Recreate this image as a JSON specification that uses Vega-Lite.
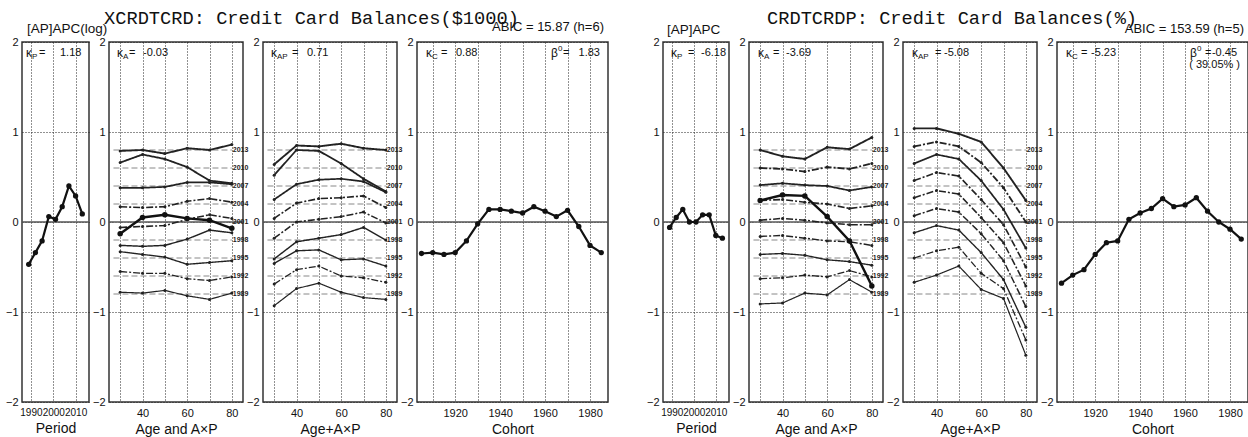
{
  "$schema": "https://vega.github.io/schema/vega-lite/v6.json",
  "background": "white",
  "padding": {"left": 4, "right": 2, "top": 8, "bottom": 0},
  "spacing": 35,
  "datasets": {
    "levels": [
      {"period": 1989, "level": -0.8}, {"period": 1992, "level": -0.6}, {"period": 1995, "level": -0.4},
      {"period": 1998, "level": -0.2}, {"period": 2001, "level": 0.0}, {"period": 2004, "level": 0.2},
      {"period": 2007, "level": 0.4}, {"period": 2010, "level": 0.6}, {"period": 2013, "level": 0.8}
    ],
    "period_left": [
      {"period": 1989, "value": -0.47}, {"period": 1992, "value": -0.34}, {"period": 1995, "value": -0.21},
      {"period": 1998, "value": 0.06}, {"period": 2001, "value": 0.03}, {"period": 2004, "value": 0.17},
      {"period": 2007, "value": 0.40}, {"period": 2010, "value": 0.29}, {"period": 2013, "value": 0.09}
    ],
    "age_left": [
      {"age": 30, "value": -0.13}, {"age": 40, "value": 0.05}, {"age": 50, "value": 0.08},
      {"age": 60, "value": 0.04}, {"age": 70, "value": 0.02}, {"age": 80, "value": -0.07}
    ],
    "axp_left": [
      {"period": 2013, "age": 30, "value": 0.79}, {"period": 2013, "age": 40, "value": 0.80}, {"period": 2013, "age": 50, "value": 0.76}, {"period": 2013, "age": 60, "value": 0.82}, {"period": 2013, "age": 70, "value": 0.80}, {"period": 2013, "age": 80, "value": 0.86},
      {"period": 2010, "age": 30, "value": 0.66}, {"period": 2010, "age": 40, "value": 0.75}, {"period": 2010, "age": 50, "value": 0.70}, {"period": 2010, "age": 60, "value": 0.61}, {"period": 2010, "age": 70, "value": 0.46}, {"period": 2010, "age": 80, "value": 0.43},
      {"period": 2007, "age": 30, "value": 0.38}, {"period": 2007, "age": 40, "value": 0.38}, {"period": 2007, "age": 50, "value": 0.39}, {"period": 2007, "age": 60, "value": 0.44}, {"period": 2007, "age": 70, "value": 0.44}, {"period": 2007, "age": 80, "value": 0.42},
      {"period": 2004, "age": 30, "value": 0.17}, {"period": 2004, "age": 40, "value": 0.16}, {"period": 2004, "age": 50, "value": 0.17}, {"period": 2004, "age": 60, "value": 0.23}, {"period": 2004, "age": 70, "value": 0.26}, {"period": 2004, "age": 80, "value": 0.22},
      {"period": 2001, "age": 30, "value": -0.06}, {"period": 2001, "age": 40, "value": -0.05}, {"period": 2001, "age": 50, "value": -0.04}, {"period": 2001, "age": 60, "value": 0.03}, {"period": 2001, "age": 70, "value": 0.08}, {"period": 2001, "age": 80, "value": 0.04},
      {"period": 1998, "age": 30, "value": -0.26}, {"period": 1998, "age": 40, "value": -0.27}, {"period": 1998, "age": 50, "value": -0.26}, {"period": 1998, "age": 60, "value": -0.19}, {"period": 1998, "age": 70, "value": -0.09}, {"period": 1998, "age": 80, "value": -0.12},
      {"period": 1995, "age": 30, "value": -0.33}, {"period": 1995, "age": 40, "value": -0.36}, {"period": 1995, "age": 50, "value": -0.39}, {"period": 1995, "age": 60, "value": -0.47}, {"period": 1995, "age": 70, "value": -0.45}, {"period": 1995, "age": 80, "value": -0.43},
      {"period": 1992, "age": 30, "value": -0.55}, {"period": 1992, "age": 40, "value": -0.57}, {"period": 1992, "age": 50, "value": -0.57}, {"period": 1992, "age": 60, "value": -0.63}, {"period": 1992, "age": 70, "value": -0.65}, {"period": 1992, "age": 80, "value": -0.61},
      {"period": 1989, "age": 30, "value": -0.78}, {"period": 1989, "age": 40, "value": -0.79}, {"period": 1989, "age": 50, "value": -0.76}, {"period": 1989, "age": 60, "value": -0.82}, {"period": 1989, "age": 70, "value": -0.86}, {"period": 1989, "age": 80, "value": -0.79}
    ],
    "ageaxp_left": [
      {"period": 2013, "age": 30, "value": 0.64}, {"period": 2013, "age": 40, "value": 0.85}, {"period": 2013, "age": 50, "value": 0.84}, {"period": 2013, "age": 60, "value": 0.87}, {"period": 2013, "age": 70, "value": 0.82}, {"period": 2013, "age": 80, "value": 0.80},
      {"period": 2010, "age": 30, "value": 0.52}, {"period": 2010, "age": 40, "value": 0.80}, {"period": 2010, "age": 50, "value": 0.79}, {"period": 2010, "age": 60, "value": 0.65}, {"period": 2010, "age": 70, "value": 0.48}, {"period": 2010, "age": 80, "value": 0.34},
      {"period": 2007, "age": 30, "value": 0.25}, {"period": 2007, "age": 40, "value": 0.42}, {"period": 2007, "age": 50, "value": 0.47}, {"period": 2007, "age": 60, "value": 0.48}, {"period": 2007, "age": 70, "value": 0.45}, {"period": 2007, "age": 80, "value": 0.33},
      {"period": 2004, "age": 30, "value": 0.04}, {"period": 2004, "age": 40, "value": 0.21}, {"period": 2004, "age": 50, "value": 0.26}, {"period": 2004, "age": 60, "value": 0.27}, {"period": 2004, "age": 70, "value": 0.29}, {"period": 2004, "age": 80, "value": 0.16},
      {"period": 2001, "age": 30, "value": -0.18}, {"period": 2001, "age": 40, "value": 0.00}, {"period": 2001, "age": 50, "value": 0.03}, {"period": 2001, "age": 60, "value": 0.06}, {"period": 2001, "age": 70, "value": 0.11}, {"period": 2001, "age": 80, "value": -0.01},
      {"period": 1998, "age": 30, "value": -0.41}, {"period": 1998, "age": 40, "value": -0.22}, {"period": 1998, "age": 50, "value": -0.18}, {"period": 1998, "age": 60, "value": -0.14}, {"period": 1998, "age": 70, "value": -0.06}, {"period": 1998, "age": 80, "value": -0.20},
      {"period": 1995, "age": 30, "value": -0.46}, {"period": 1995, "age": 40, "value": -0.32}, {"period": 1995, "age": 50, "value": -0.31}, {"period": 1995, "age": 60, "value": -0.42}, {"period": 1995, "age": 70, "value": -0.41}, {"period": 1995, "age": 80, "value": -0.49},
      {"period": 1992, "age": 30, "value": -0.69}, {"period": 1992, "age": 40, "value": -0.53}, {"period": 1992, "age": 50, "value": -0.49}, {"period": 1992, "age": 60, "value": -0.60}, {"period": 1992, "age": 70, "value": -0.62}, {"period": 1992, "age": 80, "value": -0.67},
      {"period": 1989, "age": 30, "value": -0.93}, {"period": 1989, "age": 40, "value": -0.74}, {"period": 1989, "age": 50, "value": -0.68}, {"period": 1989, "age": 60, "value": -0.78}, {"period": 1989, "age": 70, "value": -0.84}, {"period": 1989, "age": 80, "value": -0.86}
    ],
    "cohort_left": [
      {"cohort": 1905, "value": -0.35}, {"cohort": 1910, "value": -0.34}, {"cohort": 1915, "value": -0.36}, {"cohort": 1920, "value": -0.34},
      {"cohort": 1925, "value": -0.21}, {"cohort": 1930, "value": -0.02}, {"cohort": 1935, "value": 0.14}, {"cohort": 1940, "value": 0.14},
      {"cohort": 1945, "value": 0.12}, {"cohort": 1950, "value": 0.10}, {"cohort": 1955, "value": 0.17}, {"cohort": 1960, "value": 0.12},
      {"cohort": 1965, "value": 0.06}, {"cohort": 1970, "value": 0.13}, {"cohort": 1975, "value": -0.05}, {"cohort": 1980, "value": -0.26},
      {"cohort": 1985, "value": -0.34}
    ],
    "period_right": [
      {"period": 1989, "value": -0.06}, {"period": 1992, "value": 0.05}, {"period": 1995, "value": 0.14},
      {"period": 1998, "value": 0.00}, {"period": 2001, "value": 0.00}, {"period": 2004, "value": 0.08},
      {"period": 2007, "value": 0.08}, {"period": 2010, "value": -0.15}, {"period": 2013, "value": -0.18}
    ],
    "age_right": [
      {"age": 30, "value": 0.24}, {"age": 40, "value": 0.30}, {"age": 50, "value": 0.29},
      {"age": 60, "value": 0.06}, {"age": 70, "value": -0.21}, {"age": 80, "value": -0.71}
    ],
    "axp_right": [
      {"period": 2013, "age": 30, "value": 0.80}, {"period": 2013, "age": 40, "value": 0.73}, {"period": 2013, "age": 50, "value": 0.70}, {"period": 2013, "age": 60, "value": 0.83}, {"period": 2013, "age": 70, "value": 0.81}, {"period": 2013, "age": 80, "value": 0.94},
      {"period": 2010, "age": 30, "value": 0.60}, {"period": 2010, "age": 40, "value": 0.59}, {"period": 2010, "age": 50, "value": 0.56}, {"period": 2010, "age": 60, "value": 0.61}, {"period": 2010, "age": 70, "value": 0.59}, {"period": 2010, "age": 80, "value": 0.65},
      {"period": 2007, "age": 30, "value": 0.41}, {"period": 2007, "age": 40, "value": 0.43}, {"period": 2007, "age": 50, "value": 0.41}, {"period": 2007, "age": 60, "value": 0.40}, {"period": 2007, "age": 70, "value": 0.35}, {"period": 2007, "age": 80, "value": 0.39},
      {"period": 2004, "age": 30, "value": 0.24}, {"period": 2004, "age": 40, "value": 0.25}, {"period": 2004, "age": 50, "value": 0.22}, {"period": 2004, "age": 60, "value": 0.20}, {"period": 2004, "age": 70, "value": 0.15}, {"period": 2004, "age": 80, "value": 0.18},
      {"period": 2001, "age": 30, "value": 0.02}, {"period": 2001, "age": 40, "value": 0.04}, {"period": 2001, "age": 50, "value": 0.02}, {"period": 2001, "age": 60, "value": -0.01}, {"period": 2001, "age": 70, "value": -0.03}, {"period": 2001, "age": 80, "value": -0.03},
      {"period": 1998, "age": 30, "value": -0.16}, {"period": 1998, "age": 40, "value": -0.15}, {"period": 1998, "age": 50, "value": -0.18}, {"period": 1998, "age": 60, "value": -0.21}, {"period": 1998, "age": 70, "value": -0.22}, {"period": 1998, "age": 80, "value": -0.26},
      {"period": 1995, "age": 30, "value": -0.36}, {"period": 1995, "age": 40, "value": -0.35}, {"period": 1995, "age": 50, "value": -0.37}, {"period": 1995, "age": 60, "value": -0.42}, {"period": 1995, "age": 70, "value": -0.44}, {"period": 1995, "age": 80, "value": -0.48},
      {"period": 1992, "age": 30, "value": -0.63}, {"period": 1992, "age": 40, "value": -0.62}, {"period": 1992, "age": 50, "value": -0.59}, {"period": 1992, "age": 60, "value": -0.61}, {"period": 1992, "age": 70, "value": -0.54}, {"period": 1992, "age": 80, "value": -0.61},
      {"period": 1989, "age": 30, "value": -0.91}, {"period": 1989, "age": 40, "value": -0.90}, {"period": 1989, "age": 50, "value": -0.79}, {"period": 1989, "age": 60, "value": -0.81}, {"period": 1989, "age": 70, "value": -0.64}, {"period": 1989, "age": 80, "value": -0.78}
    ],
    "ageaxp_right": [
      {"period": 2013, "age": 30, "value": 1.04}, {"period": 2013, "age": 40, "value": 1.04}, {"period": 2013, "age": 50, "value": 0.98}, {"period": 2013, "age": 60, "value": 0.89}, {"period": 2013, "age": 70, "value": 0.60}, {"period": 2013, "age": 80, "value": 0.24},
      {"period": 2010, "age": 30, "value": 0.84}, {"period": 2010, "age": 40, "value": 0.89}, {"period": 2010, "age": 50, "value": 0.84}, {"period": 2010, "age": 60, "value": 0.66}, {"period": 2010, "age": 70, "value": 0.38}, {"period": 2010, "age": 80, "value": 0.00},
      {"period": 2007, "age": 30, "value": 0.65}, {"period": 2007, "age": 40, "value": 0.75}, {"period": 2007, "age": 50, "value": 0.70}, {"period": 2007, "age": 60, "value": 0.46}, {"period": 2007, "age": 70, "value": 0.14}, {"period": 2007, "age": 80, "value": -0.29},
      {"period": 2004, "age": 30, "value": 0.46}, {"period": 2004, "age": 40, "value": 0.55}, {"period": 2004, "age": 50, "value": 0.51}, {"period": 2004, "age": 60, "value": 0.25}, {"period": 2004, "age": 70, "value": -0.03}, {"period": 2004, "age": 80, "value": -0.50},
      {"period": 2001, "age": 30, "value": 0.27}, {"period": 2001, "age": 40, "value": 0.35}, {"period": 2001, "age": 50, "value": 0.31}, {"period": 2001, "age": 60, "value": 0.05}, {"period": 2001, "age": 70, "value": -0.23}, {"period": 2001, "age": 80, "value": -0.71},
      {"period": 1998, "age": 30, "value": 0.07}, {"period": 1998, "age": 40, "value": 0.15}, {"period": 1998, "age": 50, "value": 0.11}, {"period": 1998, "age": 60, "value": -0.13}, {"period": 1998, "age": 70, "value": -0.43}, {"period": 1998, "age": 80, "value": -0.94},
      {"period": 1995, "age": 30, "value": -0.12}, {"period": 1995, "age": 40, "value": -0.04}, {"period": 1995, "age": 50, "value": -0.09}, {"period": 1995, "age": 60, "value": -0.34}, {"period": 1995, "age": 70, "value": -0.64}, {"period": 1995, "age": 80, "value": -1.17},
      {"period": 1992, "age": 30, "value": -0.40}, {"period": 1992, "age": 40, "value": -0.32}, {"period": 1992, "age": 50, "value": -0.28}, {"period": 1992, "age": 60, "value": -0.57}, {"period": 1992, "age": 70, "value": -0.74}, {"period": 1992, "age": 80, "value": -1.31},
      {"period": 1989, "age": 30, "value": -0.67}, {"period": 1989, "age": 40, "value": -0.59}, {"period": 1989, "age": 50, "value": -0.49}, {"period": 1989, "age": 60, "value": -0.75}, {"period": 1989, "age": 70, "value": -0.85}, {"period": 1989, "age": 80, "value": -1.48}
    ],
    "cohort_right": [
      {"cohort": 1905, "value": -0.68}, {"cohort": 1910, "value": -0.59}, {"cohort": 1915, "value": -0.53}, {"cohort": 1920, "value": -0.36},
      {"cohort": 1925, "value": -0.23}, {"cohort": 1930, "value": -0.21}, {"cohort": 1935, "value": 0.03}, {"cohort": 1940, "value": 0.10},
      {"cohort": 1945, "value": 0.15}, {"cohort": 1950, "value": 0.26}, {"cohort": 1955, "value": 0.17}, {"cohort": 1960, "value": 0.19},
      {"cohort": 1965, "value": 0.27}, {"cohort": 1970, "value": 0.12}, {"cohort": 1975, "value": 0.00}, {"cohort": 1980, "value": -0.08},
      {"cohort": 1985, "value": -0.19}
    ]
  },
  "hconcat": [
    {
      "bounds": "flush",
      "spacing": 20,
      "resolve": {"scale": {"strokeDash": "independent", "strokeWidth": "independent"}},
      "hconcat": [
        {
          "width": 67, "height": 360,
          "title": {"text": "[AP]APC(log)", "anchor": "start", "dx": 5, "offset": 1, "fontSize": 13.5},
          "layer": [
            {"data": {"values": [{}]}, "mark": {"type": "rule", "color": "#555", "strokeWidth": 1.5}, "encoding": {"y": {"datum": 0, "type": "quantitative", "scale": {"domain": [-2, 2], "nice": false}}}},
            {"data": {"name": "period_left"}, "mark": {"type": "line", "color": "#111", "strokeWidth": 2.2, "point": {"filled": true, "size": 28, "color": "#111"}},
             "encoding": {
               "x": {"field": "period", "type": "quantitative", "scale": {"domain": [1986, 2016], "nice": false, "zero": false}, "axis": {"values": [1990, 2000, 2010], "tickCount": 10, "title": "Period", "labelOverlap": false, "labelFontSize": 10}},
               "y": {"field": "value", "type": "quantitative", "scale": {"domain": [-2, 2], "nice": false}, "axis": {"values": [-2, -1, 0, 1, 2], "tickCount": 10, "title": null}}}},
            {"data": {"values": [{}]}, "mark": {"type": "text", "text": "κ", "align": "left", "baseline": "middle", "fontSize": 12, "dx": 4}, "encoding": {"x": {"datum": 1986}, "y": {"datum": 1.88}}},
            {"data": {"values": [{}]}, "mark": {"type": "text", "text": "P", "align": "left", "baseline": "middle", "fontSize": 8, "dx": 10, "dy": 4}, "encoding": {"x": {"datum": 1986}, "y": {"datum": 1.88}}},
            {"data": {"values": [{}]}, "mark": {"type": "text", "text": "=", "align": "left", "baseline": "middle", "fontSize": 11, "dx": 17}, "encoding": {"x": {"datum": 1986}, "y": {"datum": 1.88}}},
            {"data": {"values": [{}]}, "mark": {"type": "text", "text": "1.18", "align": "left", "baseline": "middle", "fontSize": 11, "dx": 38}, "encoding": {"x": {"datum": 1986}, "y": {"datum": 1.88}}}
          ]
        },
        {
          "width": 134, "height": 360,
          "title": {"text": "XCRDTCRD: Credit Card Balances($1000)", "anchor": "start", "dx": -5, "offset": 8, "font": "Liberation Mono", "fontSize": 18.7},
          "layer": [
            {"data": {"values": [{}]}, "mark": {"type": "rule", "color": "#555", "strokeWidth": 1.5}, "encoding": {"y": {"datum": 0, "type": "quantitative", "scale": {"domain": [-2, 2], "nice": false}}}},
            {"data": {"name": "levels"}, "mark": {"type": "rule", "color": "#888", "strokeDash": [6, 3], "strokeWidth": 1},
             "encoding": {"x": {"datum": 27, "type": "quantitative"}, "x2": {"datum": 80}, "y": {"field": "level", "type": "quantitative"}}},
            {"data": {"name": "levels"}, "mark": {"type": "text", "align": "left", "baseline": "middle", "dx": 1, "fontSize": 7, "fontWeight": "bold", "color": "#222"},
             "encoding": {"x": {"datum": 80, "type": "quantitative"}, "y": {"field": "level", "type": "quantitative"}, "text": {"field": "period", "type": "nominal"}}},
            {"data": {"name": "axp_left"}, "mark": {"type": "line", "color": "#222", "point": {"filled": true, "size": 9, "color": "#222"}},
             "encoding": {
               "x": {"field": "age", "type": "quantitative", "scale": {"domain": [25, 85], "nice": false, "zero": false}, "axis": {"values": [30, 40, 50, 60, 70, 80], "tickCount": 10, "labelExpr": "datum.value % 20 == 0 ? datum.label : ''", "title": "Age and A×P"}},
               "y": {"field": "value", "type": "quantitative", "scale": {"domain": [-2, 2], "nice": false}, "axis": {"values": [-2, -1, 0, 1, 2], "tickCount": 10, "title": null}},
               "strokeDash": {"field": "period", "type": "ordinal", "legend": null, "scale": {"domain": [1989, 1992, 1995, 1998, 2001, 2004, 2007, 2010, 2013], "range": [[1, 0], [7, 2, 2, 2], [1, 0], [1, 0], [7, 2, 2, 2], [7, 2, 2, 2], [1, 0], [1, 0], [1, 0]]}},
               "strokeWidth": {"field": "period", "type": "ordinal", "legend": null, "scale": {"domain": [1989, 1992, 1995, 1998, 2001, 2004, 2007, 2010, 2013], "range": [1.2, 1.9, 1.2, 1.2, 1.9, 1.9, 1.2, 1.2, 1.2]}}}},
            {"data": {"name": "age_left"}, "mark": {"type": "line", "color": "#111", "strokeWidth": 2.4, "point": {"filled": true, "size": 30, "color": "#111"}},
             "encoding": {"x": {"field": "age", "type": "quantitative"}, "y": {"field": "value", "type": "quantitative"}}},
            {"data": {"values": [{}]}, "mark": {"type": "text", "text": "κ", "align": "left", "baseline": "middle", "fontSize": 12, "dx": 8}, "encoding": {"x": {"datum": 25}, "y": {"datum": 1.88}}},
            {"data": {"values": [{}]}, "mark": {"type": "text", "text": "A", "align": "left", "baseline": "middle", "fontSize": 8, "dx": 14, "dy": 4}, "encoding": {"x": {"datum": 25}, "y": {"datum": 1.88}}},
            {"data": {"values": [{}]}, "mark": {"type": "text", "text": "=", "align": "left", "baseline": "middle", "fontSize": 11, "dx": 20}, "encoding": {"x": {"datum": 25}, "y": {"datum": 1.88}}},
            {"data": {"values": [{}]}, "mark": {"type": "text", "text": "-0.03", "align": "left", "baseline": "middle", "fontSize": 11, "dx": 34}, "encoding": {"x": {"datum": 25}, "y": {"datum": 1.88}}}
          ]
        },
        {
          "width": 134, "height": 360,
          "layer": [
            {"data": {"values": [{}]}, "mark": {"type": "rule", "color": "#555", "strokeWidth": 1.5}, "encoding": {"y": {"datum": 0, "type": "quantitative", "scale": {"domain": [-2, 2], "nice": false}}}},
            {"data": {"name": "levels"}, "mark": {"type": "rule", "color": "#888", "strokeDash": [6, 3], "strokeWidth": 1},
             "encoding": {"x": {"datum": 27, "type": "quantitative"}, "x2": {"datum": 80}, "y": {"field": "level", "type": "quantitative"}}},
            {"data": {"name": "levels"}, "mark": {"type": "text", "align": "left", "baseline": "middle", "dx": 1, "fontSize": 7, "fontWeight": "bold", "color": "#222"},
             "encoding": {"x": {"datum": 80, "type": "quantitative"}, "y": {"field": "level", "type": "quantitative"}, "text": {"field": "period", "type": "nominal"}}},
            {"data": {"name": "ageaxp_left"}, "mark": {"type": "line", "color": "#222", "point": {"filled": true, "size": 9, "color": "#222"}},
             "encoding": {
               "x": {"field": "age", "type": "quantitative", "scale": {"domain": [25, 85], "nice": false, "zero": false}, "axis": {"values": [30, 40, 50, 60, 70, 80], "tickCount": 10, "labelExpr": "datum.value % 20 == 0 ? datum.label : ''", "title": "Age+A×P"}},
               "y": {"field": "value", "type": "quantitative", "scale": {"domain": [-2, 2], "nice": false}, "axis": {"values": [-2, -1, 0, 1, 2], "tickCount": 10, "title": null}},
               "strokeDash": {"field": "period", "type": "ordinal", "legend": null, "scale": {"domain": [1989, 1992, 1995, 1998, 2001, 2004, 2007, 2010, 2013], "range": [[1, 0], [7, 2, 2, 2], [1, 0], [1, 0], [7, 2, 2, 2], [7, 2, 2, 2], [1, 0], [1, 0], [1, 0]]}},
               "strokeWidth": {"field": "period", "type": "ordinal", "legend": null, "scale": {"domain": [1989, 1992, 1995, 1998, 2001, 2004, 2007, 2010, 2013], "range": [1.2, 1.9, 1.2, 1.2, 1.9, 1.9, 1.2, 1.2, 1.2]}}}},
            {"data": {"values": [{}]}, "mark": {"type": "text", "text": "κ", "align": "left", "baseline": "middle", "fontSize": 12, "dx": 8}, "encoding": {"x": {"datum": 25}, "y": {"datum": 1.88}}},
            {"data": {"values": [{}]}, "mark": {"type": "text", "text": "AP", "align": "left", "baseline": "middle", "fontSize": 8, "dx": 14, "dy": 4}, "encoding": {"x": {"datum": 25}, "y": {"datum": 1.88}}},
            {"data": {"values": [{}]}, "mark": {"type": "text", "text": "=", "align": "left", "baseline": "middle", "fontSize": 11, "dx": 29}, "encoding": {"x": {"datum": 25}, "y": {"datum": 1.88}}},
            {"data": {"values": [{}]}, "mark": {"type": "text", "text": "0.71", "align": "left", "baseline": "middle", "fontSize": 11, "dx": 44}, "encoding": {"x": {"datum": 25}, "y": {"datum": 1.88}}}
          ]
        },
        {
          "width": 191, "height": 360,
          "title": {"text": "ABIC = 15.87 (h=6)", "anchor": "end", "dx": -4, "offset": 2},
          "layer": [
            {"data": {"values": [{}]}, "mark": {"type": "rule", "color": "#555", "strokeWidth": 1.5}, "encoding": {"y": {"datum": 0, "type": "quantitative", "scale": {"domain": [-2, 2], "nice": false}}}},
            {"data": {"name": "cohort_left"}, "mark": {"type": "line", "color": "#111", "strokeWidth": 2.2, "point": {"filled": true, "size": 28, "color": "#111"}},
             "encoding": {
               "x": {"field": "cohort", "type": "quantitative", "scale": {"domain": [1903, 1988], "nice": false, "zero": false}, "axis": {"values": [1910, 1920, 1930, 1940, 1950, 1960, 1970, 1980], "tickCount": 10, "labelExpr": "datum.value % 20 == 0 ? datum.label : ''", "title": "Cohort"}},
               "y": {"field": "value", "type": "quantitative", "scale": {"domain": [-2, 2], "nice": false}, "axis": {"values": [-2, -1, 0, 1, 2], "tickCount": 10, "title": null}}}},
            {"data": {"values": [{}]}, "mark": {"type": "text", "text": "κ", "align": "left", "baseline": "middle", "fontSize": 12, "dx": 9}, "encoding": {"x": {"datum": 1903}, "y": {"datum": 1.88}}},
            {"data": {"values": [{}]}, "mark": {"type": "text", "text": "C", "align": "left", "baseline": "middle", "fontSize": 8, "dx": 15, "dy": 4}, "encoding": {"x": {"datum": 1903}, "y": {"datum": 1.88}}},
            {"data": {"values": [{}]}, "mark": {"type": "text", "text": "=", "align": "left", "baseline": "middle", "fontSize": 11, "dx": 24}, "encoding": {"x": {"datum": 1903}, "y": {"datum": 1.88}}},
            {"data": {"values": [{}]}, "mark": {"type": "text", "text": "0.88", "align": "left", "baseline": "middle", "fontSize": 11, "dx": 39}, "encoding": {"x": {"datum": 1903}, "y": {"datum": 1.88}}},
            {"data": {"values": [{}]}, "mark": {"type": "text", "text": "β", "align": "left", "baseline": "middle", "fontSize": 12, "dx": -57}, "encoding": {"x": {"datum": 1988}, "y": {"datum": 1.88}}},
            {"data": {"values": [{}]}, "mark": {"type": "text", "text": "0", "align": "left", "baseline": "middle", "fontSize": 8, "dx": -50, "dy": -4}, "encoding": {"x": {"datum": 1988}, "y": {"datum": 1.88}}},
            {"data": {"values": [{}]}, "mark": {"type": "text", "text": "=", "align": "left", "baseline": "middle", "fontSize": 11, "dx": -45}, "encoding": {"x": {"datum": 1988}, "y": {"datum": 1.88}}},
            {"data": {"values": [{}]}, "mark": {"type": "text", "text": "1.83", "align": "right", "baseline": "middle", "fontSize": 11, "dx": -8}, "encoding": {"x": {"datum": 1988}, "y": {"datum": 1.88}}}
          ]
        }
      ]
    },
    {
      "bounds": "flush",
      "spacing": 20,
      "resolve": {"scale": {"strokeDash": "independent", "strokeWidth": "independent"}},
      "hconcat": [
        {
          "width": 66, "height": 360,
          "title": {"text": "[AP]APC", "anchor": "start", "dx": 4, "offset": 0, "fontSize": 13.5},
          "layer": [
            {"data": {"values": [{}]}, "mark": {"type": "rule", "color": "#555", "strokeWidth": 1.5}, "encoding": {"y": {"datum": 0, "type": "quantitative", "scale": {"domain": [-2, 2], "nice": false}}}},
            {"data": {"name": "period_right"}, "mark": {"type": "line", "color": "#111", "strokeWidth": 2.2, "point": {"filled": true, "size": 28, "color": "#111"}},
             "encoding": {
               "x": {"field": "period", "type": "quantitative", "scale": {"domain": [1986, 2016], "nice": false, "zero": false}, "axis": {"values": [1990, 2000, 2010], "tickCount": 10, "title": "Period", "labelOverlap": false, "labelFontSize": 10}},
               "y": {"field": "value", "type": "quantitative", "scale": {"domain": [-2, 2], "nice": false}, "axis": {"values": [-2, -1, 0, 1, 2], "tickCount": 10, "title": null}}}},
            {"data": {"values": [{}]}, "mark": {"type": "text", "text": "κ", "align": "left", "baseline": "middle", "fontSize": 12, "dx": 8}, "encoding": {"x": {"datum": 1986}, "y": {"datum": 1.88}}},
            {"data": {"values": [{}]}, "mark": {"type": "text", "text": "P", "align": "left", "baseline": "middle", "fontSize": 8, "dx": 14, "dy": 4}, "encoding": {"x": {"datum": 1986}, "y": {"datum": 1.88}}},
            {"data": {"values": [{}]}, "mark": {"type": "text", "text": "=", "align": "left", "baseline": "middle", "fontSize": 11, "dx": 25}, "encoding": {"x": {"datum": 1986}, "y": {"datum": 1.88}}},
            {"data": {"values": [{}]}, "mark": {"type": "text", "text": "-6.18", "align": "left", "baseline": "middle", "fontSize": 11, "dx": 38}, "encoding": {"x": {"datum": 1986}, "y": {"datum": 1.88}}}
          ]
        },
        {
          "width": 134, "height": 360,
          "title": {"text": "CRDTCRDP: Credit Card Balances(%)", "anchor": "start", "dx": 18, "offset": 8, "font": "Liberation Mono", "fontSize": 18.7},
          "layer": [
            {"data": {"values": [{}]}, "mark": {"type": "rule", "color": "#555", "strokeWidth": 1.5}, "encoding": {"y": {"datum": 0, "type": "quantitative", "scale": {"domain": [-2, 2], "nice": false}}}},
            {"data": {"name": "levels"}, "mark": {"type": "rule", "color": "#888", "strokeDash": [6, 3], "strokeWidth": 1},
             "encoding": {"x": {"datum": 27, "type": "quantitative"}, "x2": {"datum": 80}, "y": {"field": "level", "type": "quantitative"}}},
            {"data": {"name": "levels"}, "mark": {"type": "text", "align": "left", "baseline": "middle", "dx": 1, "fontSize": 7, "fontWeight": "bold", "color": "#222"},
             "encoding": {"x": {"datum": 80, "type": "quantitative"}, "y": {"field": "level", "type": "quantitative"}, "text": {"field": "period", "type": "nominal"}}},
            {"data": {"name": "axp_right"}, "mark": {"type": "line", "color": "#222", "point": {"filled": true, "size": 9, "color": "#222"}},
             "encoding": {
               "x": {"field": "age", "type": "quantitative", "scale": {"domain": [25, 85], "nice": false, "zero": false}, "axis": {"values": [30, 40, 50, 60, 70, 80], "tickCount": 10, "labelExpr": "datum.value % 20 == 0 ? datum.label : ''", "title": "Age and A×P"}},
               "y": {"field": "value", "type": "quantitative", "scale": {"domain": [-2, 2], "nice": false}, "axis": {"values": [-2, -1, 0, 1, 2], "tickCount": 10, "title": null}},
               "strokeDash": {"field": "period", "type": "ordinal", "legend": null, "scale": {"domain": [1989, 1992, 1995, 1998, 2001, 2004, 2007, 2010, 2013], "range": [[1, 0], [7, 2, 2, 2], [1, 0], [7, 2, 2, 2], [7, 2, 2, 2], [7, 2, 2, 2], [1, 0], [7, 2, 2, 2], [1, 0]]}},
               "strokeWidth": {"field": "period", "type": "ordinal", "legend": null, "scale": {"domain": [1989, 1992, 1995, 1998, 2001, 2004, 2007, 2010, 2013], "range": [1.2, 1.9, 1.2, 1.9, 1.9, 1.9, 1.2, 1.9, 1.2]}}}},
            {"data": {"name": "age_right"}, "mark": {"type": "line", "color": "#111", "strokeWidth": 2.4, "point": {"filled": true, "size": 30, "color": "#111"}},
             "encoding": {"x": {"field": "age", "type": "quantitative"}, "y": {"field": "value", "type": "quantitative"}}},
            {"data": {"values": [{}]}, "mark": {"type": "text", "text": "κ", "align": "left", "baseline": "middle", "fontSize": 12, "dx": 9}, "encoding": {"x": {"datum": 25}, "y": {"datum": 1.88}}},
            {"data": {"values": [{}]}, "mark": {"type": "text", "text": "A", "align": "left", "baseline": "middle", "fontSize": 8, "dx": 15, "dy": 4}, "encoding": {"x": {"datum": 25}, "y": {"datum": 1.88}}},
            {"data": {"values": [{}]}, "mark": {"type": "text", "text": "=", "align": "left", "baseline": "middle", "fontSize": 11, "dx": 24}, "encoding": {"x": {"datum": 25}, "y": {"datum": 1.88}}},
            {"data": {"values": [{}]}, "mark": {"type": "text", "text": "-3.69", "align": "left", "baseline": "middle", "fontSize": 11, "dx": 37}, "encoding": {"x": {"datum": 25}, "y": {"datum": 1.88}}}
          ]
        },
        {
          "width": 134, "height": 360,
          "layer": [
            {"data": {"values": [{}]}, "mark": {"type": "rule", "color": "#555", "strokeWidth": 1.5}, "encoding": {"y": {"datum": 0, "type": "quantitative", "scale": {"domain": [-2, 2], "nice": false}}}},
            {"data": {"name": "levels"}, "mark": {"type": "rule", "color": "#888", "strokeDash": [6, 3], "strokeWidth": 1},
             "encoding": {"x": {"datum": 27, "type": "quantitative"}, "x2": {"datum": 80}, "y": {"field": "level", "type": "quantitative"}}},
            {"data": {"name": "levels"}, "mark": {"type": "text", "align": "left", "baseline": "middle", "dx": 1, "fontSize": 7, "fontWeight": "bold", "color": "#222"},
             "encoding": {"x": {"datum": 80, "type": "quantitative"}, "y": {"field": "level", "type": "quantitative"}, "text": {"field": "period", "type": "nominal"}}},
            {"data": {"name": "ageaxp_right"}, "mark": {"type": "line", "color": "#222", "point": {"filled": true, "size": 9, "color": "#222"}},
             "encoding": {
               "x": {"field": "age", "type": "quantitative", "scale": {"domain": [25, 85], "nice": false, "zero": false}, "axis": {"values": [30, 40, 50, 60, 70, 80], "tickCount": 10, "labelExpr": "datum.value % 20 == 0 ? datum.label : ''", "title": "Age+A×P"}},
               "y": {"field": "value", "type": "quantitative", "scale": {"domain": [-2, 2], "nice": false}, "axis": {"values": [-2, -1, 0, 1, 2], "tickCount": 10, "title": null}},
               "strokeDash": {"field": "period", "type": "ordinal", "legend": null, "scale": {"domain": [1989, 1992, 1995, 1998, 2001, 2004, 2007, 2010, 2013], "range": [[1, 0], [7, 2, 2, 2], [1, 0], [7, 2, 2, 2], [7, 2, 2, 2], [7, 2, 2, 2], [1, 0], [7, 2, 2, 2], [1, 0]]}},
               "strokeWidth": {"field": "period", "type": "ordinal", "legend": null, "scale": {"domain": [1989, 1992, 1995, 1998, 2001, 2004, 2007, 2010, 2013], "range": [1.2, 1.9, 1.2, 1.9, 1.9, 1.9, 1.2, 1.9, 1.2]}}}},
            {"data": {"values": [{}]}, "mark": {"type": "text", "text": "κ", "align": "left", "baseline": "middle", "fontSize": 12, "dx": 9}, "encoding": {"x": {"datum": 25}, "y": {"datum": 1.88}}},
            {"data": {"values": [{}]}, "mark": {"type": "text", "text": "AP", "align": "left", "baseline": "middle", "fontSize": 8, "dx": 15, "dy": 4}, "encoding": {"x": {"datum": 25}, "y": {"datum": 1.88}}},
            {"data": {"values": [{}]}, "mark": {"type": "text", "text": "=", "align": "left", "baseline": "middle", "fontSize": 11, "dx": 32}, "encoding": {"x": {"datum": 25}, "y": {"datum": 1.88}}},
            {"data": {"values": [{}]}, "mark": {"type": "text", "text": "-5.08", "align": "left", "baseline": "middle", "fontSize": 11, "dx": 41}, "encoding": {"x": {"datum": 25}, "y": {"datum": 1.88}}}
          ]
        },
        {
          "width": 191, "height": 360,
          "title": {"text": "ABIC = 153.59 (h=5)", "anchor": "end", "dx": -4, "offset": 0},
          "layer": [
            {"data": {"values": [{}]}, "mark": {"type": "rule", "color": "#555", "strokeWidth": 1.5}, "encoding": {"y": {"datum": 0, "type": "quantitative", "scale": {"domain": [-2, 2], "nice": false}}}},
            {"data": {"name": "cohort_right"}, "mark": {"type": "line", "color": "#111", "strokeWidth": 2.2, "point": {"filled": true, "size": 28, "color": "#111"}},
             "encoding": {
               "x": {"field": "cohort", "type": "quantitative", "scale": {"domain": [1903, 1988], "nice": false, "zero": false}, "axis": {"values": [1910, 1920, 1930, 1940, 1950, 1960, 1970, 1980], "tickCount": 10, "labelExpr": "datum.value % 20 == 0 ? datum.label : ''", "title": "Cohort"}},
               "y": {"field": "value", "type": "quantitative", "scale": {"domain": [-2, 2], "nice": false}, "axis": {"values": [-2, -1, 0, 1, 2], "tickCount": 10, "title": null}}}},
            {"data": {"values": [{}]}, "mark": {"type": "text", "text": "κ", "align": "left", "baseline": "middle", "fontSize": 12, "dx": 9}, "encoding": {"x": {"datum": 1903}, "y": {"datum": 1.88}}},
            {"data": {"values": [{}]}, "mark": {"type": "text", "text": "C", "align": "left", "baseline": "middle", "fontSize": 8, "dx": 15, "dy": 4}, "encoding": {"x": {"datum": 1903}, "y": {"datum": 1.88}}},
            {"data": {"values": [{}]}, "mark": {"type": "text", "text": "=", "align": "left", "baseline": "middle", "fontSize": 11, "dx": 24}, "encoding": {"x": {"datum": 1903}, "y": {"datum": 1.88}}},
            {"data": {"values": [{}]}, "mark": {"type": "text", "text": "-5.23", "align": "left", "baseline": "middle", "fontSize": 11, "dx": 34}, "encoding": {"x": {"datum": 1903}, "y": {"datum": 1.88}}},
            {"data": {"values": [{}]}, "mark": {"type": "text", "text": "β", "align": "left", "baseline": "middle", "fontSize": 12, "dx": -58}, "encoding": {"x": {"datum": 1988}, "y": {"datum": 1.88}}},
            {"data": {"values": [{}]}, "mark": {"type": "text", "text": "0", "align": "left", "baseline": "middle", "fontSize": 8, "dx": -51, "dy": -4}, "encoding": {"x": {"datum": 1988}, "y": {"datum": 1.88}}},
            {"data": {"values": [{}]}, "mark": {"type": "text", "text": "=", "align": "left", "baseline": "middle", "fontSize": 11, "dx": -43}, "encoding": {"x": {"datum": 1988}, "y": {"datum": 1.88}}},
            {"data": {"values": [{}]}, "mark": {"type": "text", "text": "-0.45", "align": "right", "baseline": "middle", "fontSize": 11, "dx": -11}, "encoding": {"x": {"datum": 1988}, "y": {"datum": 1.88}}},
            {"data": {"values": [{}]}, "mark": {"type": "text", "text": "( 39.05% )", "align": "right", "baseline": "middle", "fontSize": 11, "dx": -8}, "encoding": {"x": {"datum": 1988}, "y": {"datum": 1.75}}}
          ]
        }
      ]
    }
  ],
  "config": {
    "view": {"stroke": "#333", "strokeWidth": 1.5},
    "font": "Liberation Sans",
    "text": {"font": "Liberation Sans", "color": "#111"},
    "title": {"font": "Liberation Sans", "fontSize": 13, "fontWeight": "normal", "color": "#111", "baseline": "alphabetic", "frame": "group"},
    "axis": {
      "labelFont": "Liberation Sans", "labelFontSize": 11, "labelColor": "#111",
      "titleFont": "Liberation Sans", "titleFontSize": 14, "titleFontWeight": "normal", "titleColor": "#111",
      "domain": false, "ticks": false, "grid": true, "gridColor": "#222", "gridDash": [1, 2], "gridWidth": 1,
      "labelFlush": false, "labelOverlap": false, "format": "d"
    },
    "axisX": {"labelPadding": 5, "titlePadding": 4},
    "axisY": {"labelPadding": 4}
  }
}
